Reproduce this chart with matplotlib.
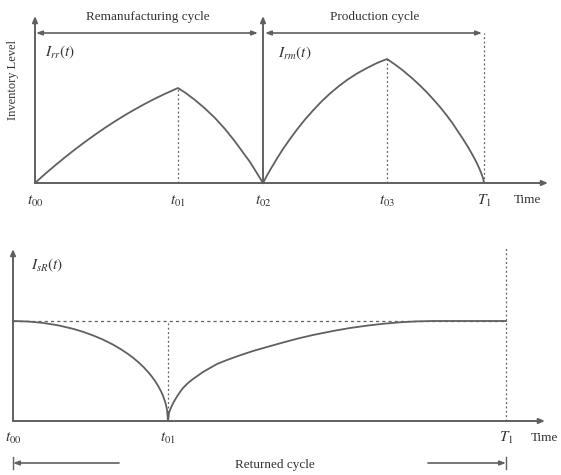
import matplotlib
matplotlib.use("Agg")
import matplotlib.pyplot as plt

plt.rcParams['font.family'] = ['Liberation Serif', 'DejaVu Serif']
plt.rcParams['mathtext.fontset'] = 'stix'

# ---------------- data ----------------
# top panel: time units, inventory level units
rem_t = [0, 10, 20, 30, 40, 50, 60, 70, 80, 90, 100, 110, 120, 130, 143,
         150, 160, 170, 180, 190, 200, 208, 215, 220, 224, 228]
rem_lv = [0, 9, 17.5, 25.7, 33.6, 41.1, 48.3, 55.2, 61.7, 67.9, 73.7, 79.2, 84.4, 89.2, 95,
          90.5, 83, 74.5, 65, 54, 41.5, 30.5, 21, 13, 6.5, 0]
prod_t = [228, 232, 236, 242, 248, 255, 262, 270, 278, 286, 295, 304, 312, 322, 332, 342, 352,
          360, 368, 378, 385, 392, 398, 405, 411, 417, 423, 428, 433, 437, 440, 443, 446, 448, 449]
prod_lv = [0, 7.5, 14.5, 24.5, 34, 44, 53.5, 63.5, 72.5, 81, 89.5, 97, 103, 109.5, 115, 120, 124,
           118.5, 112.5, 104, 97.5, 90.5, 84, 76, 68.5, 60.5, 51.5, 44, 36, 29, 23.5, 17.5, 10.5, 5, 0]
top_ticks = [0, 143, 228, 352, 449]
top_tick_labels = [r'$t_{00}$', r'$t_{01}$', r'$t_{02}$', r'$t_{03}$', r'$T_1$']
peak_levels = [95, 124]

# bottom panel
ret_t = [0, 15, 30, 45, 60, 70, 80, 90, 100, 108, 115, 120, 125, 130, 135, 139, 142, 145,
         148, 150, 152, 153, 154, 155,
         156, 157, 159, 161, 164, 167, 170, 175, 180, 185, 190, 197, 204, 214, 225, 240,
         254, 270, 285, 300, 320, 337, 355, 370, 387, 403, 420, 493]
ret_lv = [100, 99.5, 98.1, 95.7, 92.2, 89.2, 85.6, 81.4, 76.4, 71.7, 67.0, 63.3, 59.1, 54.5, 49.1,
          44.2, 40.1, 35.3, 29.7, 25.2, 19.6, 16.0, 11.3, 0,
          8, 11, 15.5, 19.5, 24.5, 29, 33, 38, 42, 45.5, 49, 53, 57, 61, 65, 70,
          74, 78.5, 82.5, 86, 90, 93, 95.5, 97.2, 98.7, 99.6, 100, 100]
bot_ticks = [0, 155, 493]
bot_tick_labels = [r'$t_{00}$', r'$t_{01}$', r'$T_1$']
ret_level = 100

LC = '#606060'
TC = '#333333'

fig = plt.figure(figsize=(5.61, 4.75), dpi=100)
AX_ARROW = dict(arrowstyle='-|>,head_length=0.35,head_width=0.15', color=LC, lw=1.4, shrinkA=0, shrinkB=0)
BR_ARROW = dict(arrowstyle='<|-|>,head_length=0.35,head_width=0.13', color=LC, lw=1.2, shrinkA=0, shrinkB=0)
ONE_ARROW = dict(arrowstyle='-|>,head_length=0.35,head_width=0.13', color=LC, lw=1.2, shrinkA=0, shrinkB=0)
DOT = (0, (1.5, 2))

# ---------------- top panel ----------------
ax = fig.add_axes([0, 0, 1, 1])
ax.set_xlim(-35, 526)
ax.set_ylim(-292, 183)
ax.set_axis_off()

ax.annotate('', xy=(0, 167), xytext=(0, 0), arrowprops=AX_ARROW)
ax.annotate('', xy=(513, 0), xytext=(0, 0), arrowprops=AX_ARROW)
ax.annotate('', xy=(228, 167), xytext=(228, 0), arrowprops=AX_ARROW)

ax.annotate('', xy=(223, 150), xytext=(1, 150), arrowprops=BR_ARROW)
ax.annotate('', xy=(447, 150), xytext=(230, 150), arrowprops=BR_ARROW)
ax.text(113, 166, 'Remanufacturing cycle', ha='center', va='center', fontsize=9.5, color=TC)
ax.text(340, 166, 'Production cycle', ha='center', va='center', fontsize=9.5, color=TC)

ax.plot(rem_t, rem_lv, color=LC, lw=1.3, solid_joinstyle='round')
ax.plot(prod_t, prod_lv, color=LC, lw=1.3, solid_joinstyle='round')

ax.plot([top_ticks[1], top_ticks[1]], [0, peak_levels[0]], ls=DOT, color=LC, lw=0.9)
ax.plot([top_ticks[3], top_ticks[3]], [0, peak_levels[1]], ls=DOT, color=LC, lw=0.9)
ax.plot([top_ticks[4], top_ticks[4]], [0, 150], ls=DOT, color=LC, lw=0.9)

for t, lab in zip(top_ticks, top_tick_labels):
    ax.text(t, -18, lab, ha='center', va='center', fontsize=11, color=TC)
ax.text(479, -17, 'Time', ha='left', va='center', fontsize=9.5, color=TC)
ax.text(-22, 103, 'Inventory Level', ha='center', va='center', rotation=90, fontsize=9, color=TC)
ax.text(10, 131, r'$I_{rr}(t)$', ha='left', va='center', fontsize=11, color=TC)
ax.text(243, 130, r'$I_{rm}(t)$', ha='left', va='center', fontsize=11, color=TC)

# ---------------- bottom panel ----------------
bx = fig.add_axes([0, 0, 1, 1])
bx.set_xlim(-13, 548)
bx.set_ylim(-54, 421)
bx.set_axis_off()
bx.patch.set_alpha(0)

bx.annotate('', xy=(0, 172), xytext=(0, 0), arrowprops=AX_ARROW)
bx.annotate('', xy=(532, 0), xytext=(0, 0), arrowprops=AX_ARROW)

bx.plot([0, bot_ticks[2]], [ret_level, ret_level], ls=(0, (2.5, 2.5)), color=LC, lw=0.9)
bx.plot([bot_ticks[1], bot_ticks[1]], [0, ret_level], ls=DOT, color=LC, lw=0.9)
bx.plot([bot_ticks[2], bot_ticks[2]], [0, 173], ls=DOT, color=LC, lw=0.9)

bx.plot(ret_t, ret_lv, color=LC, lw=1.3, solid_joinstyle='round')

for t, lab in zip(bot_ticks, bot_tick_labels):
    bx.text(t, -17, lab, ha='center', va='center', fontsize=11, color=TC)
bx.text(518, -17, 'Time', ha='left', va='center', fontsize=9.5, color=TC)
bx.text(18, 156, r'$I_{sR}(t)$', ha='left', va='center', fontsize=11, color=TC)

bx.annotate('', xy=(0, -42), xytext=(106, -42), arrowprops=ONE_ARROW)
bx.annotate('', xy=(bot_ticks[2], -42), xytext=(415, -42), arrowprops=ONE_ARROW)
bx.plot([0, 0], [-36, -48], color=LC, lw=1.0)
bx.plot([bot_ticks[2], bot_ticks[2]], [-36, -48], color=LC, lw=1.0)
bx.text(262, -44, 'Returned cycle', ha='center', va='center', fontsize=9.5, color=TC)

fig.savefig('out.png', dpi=100)
